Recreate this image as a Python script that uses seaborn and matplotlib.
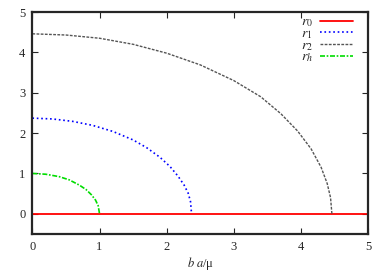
import matplotlib
matplotlib.use("Agg")
import matplotlib.pyplot as plt
import numpy as np
import pandas as pd
import seaborn as sns

# values
r0_x = [0.0, 5.0]
r0_y = [0.0, 0.0]

r1_x = [0.0, 0.3, 0.6, 0.9, 1.2, 1.5, 1.7, 1.9, 2.05, 2.17, 2.26, 2.32, 2.355, 2.37]
r1_y = [2.37, 2.35, 2.29, 2.19, 2.04, 1.83, 1.64, 1.40, 1.17, 0.93, 0.71, 0.51, 0.30, 0.0]

r2_x = [0.0, 0.5, 1.0, 1.5, 2.0, 2.5, 3.0, 3.4, 3.7, 3.95, 4.15, 4.3, 4.39, 4.44, 4.46]
r2_y = [4.46, 4.43, 4.35, 4.20, 3.98, 3.69, 3.30, 2.90, 2.48, 2.05, 1.61, 1.15, 0.75, 0.40, 0.0]

rh_x = [0.0, 0.2, 0.4, 0.55, 0.7, 0.8, 0.88, 0.94, 0.98, 1.0]
rh_y = [1.0, 0.98, 0.92, 0.84, 0.71, 0.60, 0.47, 0.34, 0.20, 0.0]

sns.set_style("ticks")
plt.rcParams['font.family'] = ['Liberation Serif', 'DejaVu Serif']
plt.rcParams['mathtext.fontset'] = 'stix'

fig = plt.figure(figsize=(3.9, 2.73), dpi=100)
ax = fig.add_axes([0.083, 0.143, 0.861, 0.813])

series = [
    ("$r_0$", r0_x, r0_y, "#ff0000", "-", 1.3),
    ("$r_1$", r1_x, r1_y, "#0000ff", ":", 1.2),
    ("$r_2$", r2_x, r2_y, "#555555", (0, (2, 1)), 1.0),
    ("$r_h$", rh_x, rh_y, "#00dd00", (0, (3, 1, 1, 1)), 1.2),
]
for name, xs, ys, col, ls, lw in series:
    df = pd.DataFrame({"x": xs, "y": ys})
    sns.lineplot(data=df, x="x", y="y", ax=ax, color=col, linestyle=ls,
                 linewidth=lw, sort=False, estimator=None, label=name)

ax.set_xlim(0, 5)
ax.set_ylim(-0.5, 5)
ax.set_xticks([0, 1, 2, 3, 4, 5])
ax.set_yticks([0, 1, 2, 3, 4, 5])
ax.tick_params(direction="in", length=4, width=0.8, top=True, right=True,
               labelsize=9, pad=5)
for s in ax.spines.values():
    s.set_linewidth(1.6)
ax.set_xlabel("$b\\ a$/μ", fontsize=9, labelpad=1.5)
ax.set_ylabel("")

ax.legend(loc="upper right", bbox_to_anchor=(0.965, 1.0), frameon=False,
          markerfirst=False, fontsize=10, handlelength=2.4,
          labelspacing=-0.15, borderaxespad=0.05, handletextpad=0.5,
          borderpad=0.2)

fig.savefig("out.png", dpi=100)
